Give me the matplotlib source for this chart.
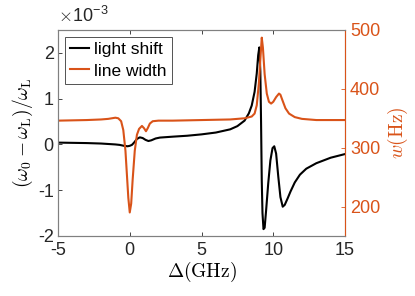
import matplotlib
matplotlib.use("Agg")
import matplotlib.pyplot as plt

plt.rcParams['font.family'] = ['Liberation Sans', 'DejaVu Sans']
plt.rcParams['mathtext.fontset'] = 'cm'

# light shift (units of 1e-3)
ls_x = [-5, -4, -3, -2, -1.5, -1, -0.7, -0.4, -0.15, 0.0, 0.15, 0.3, 0.5, 0.7, 0.9, 1.1, 1.3,
        1.5, 1.8, 2.1, 3, 4, 5, 6, 7, 7.5, 8, 8.3, 8.5, 8.7, 8.85, 8.95, 9.03, 9.1, 9.15, 9.2,
        9.25, 9.32, 9.4, 9.5, 9.65, 9.8, 9.95, 10.07, 10.2, 10.35, 10.5, 10.66, 10.8, 11.0,
        11.2, 11.5, 11.86, 12.3, 13, 14, 15]
ls_y = [0.04, 0.035, 0.03, 0.02, 0.01, 0.0, -0.01, -0.03, -0.04, -0.03, -0.01, 0.04, 0.12,
        0.155, 0.14, 0.10, 0.075, 0.09, 0.13, 0.15, 0.17, 0.19, 0.22, 0.26, 0.33, 0.40, 0.52,
        0.68, 0.85, 1.15, 1.55, 1.95, 2.12, 1.6, 0.5, -0.8, -1.5, -1.85, -1.82, -1.45, -0.85,
        -0.35, -0.08, -0.04, -0.2, -0.7, -1.15, -1.36, -1.32, -1.18, -1.03, -0.83, -0.66,
        -0.53, -0.41, -0.29, -0.21]

# line width (Hz)
lw_x = [-5, -3, -2, -1.5, -1, -0.8, -0.6, -0.45, -0.3, -0.2, -0.1, 0.0, 0.1, 0.2, 0.35, 0.5,
        0.65, 0.85, 1.0, 1.13, 1.25, 1.4, 1.6, 2.0, 3, 5, 7, 8, 8.5, 8.7, 8.85, 9.0, 9.1, 9.2,
        9.28, 9.4, 9.55, 9.7, 9.85, 10.0, 10.2, 10.4, 10.5, 10.65, 10.85, 11.1, 11.5, 12, 13, 15]
lw_y = [346, 347, 348, 349, 351, 350, 345, 330, 295, 255, 215, 190, 205, 245, 295, 322, 332,
        337, 333, 328, 333, 341, 345, 346, 346, 347, 348, 350, 353, 358, 372, 410, 450, 487,
        470, 425, 392, 378, 375, 378, 386, 392, 390, 380, 367, 358, 352, 349, 347, 347]

xticks = [-5, 0, 5, 10, 15]
lticks = [-2, -1, 0, 1, 2]
rticks = [200, 300, 400, 500]

orange = '#D95319'
gray = '#262626'

fig = plt.figure(figsize=(4.15, 2.96), dpi=100)
ax = fig.add_axes([58/415, 60/296, 287/415, 206/296])
ax2 = ax.twinx()

l1, = ax.plot(ls_x, ls_y, color='black', lw=1.5, label='light shift')
l2, = ax2.plot(lw_x, lw_y, color=orange, lw=1.5, label='line width')

ax.set_xlim(-5, 15)
ax.set_ylim(-2, 2.5)
ax2.set_ylim(150, 500)
ax.set_xticks(xticks)
ax.set_yticks(lticks)
ax2.set_yticks(rticks)
ax.set_xticklabels([str(v) for v in xticks])
ax.set_yticklabels([str(v) for v in lticks])

for a in (ax, ax2):
    for s in a.spines.values():
        s.set_linewidth(0.8)
        s.set_color('#808080')
ax2.spines['right'].set_color(orange)
ax.tick_params(axis='both', direction='in', length=3, labelsize=13, colors=gray,
               top=True, width=0.6)
ax.tick_params(axis='x', pad=4)
ax.tick_params(axis='y', pad=3)
ax2.tick_params(axis='y', direction='in', length=3, labelsize=13, colors=orange, width=0.6)
for a in (ax, ax2):
    for t in a.get_xticklabels() + a.get_yticklabels():
        t.set_color(gray if a is ax else orange)

ax.set_xlabel(r'$\Delta(\mathrm{GHz})$', fontsize=14, labelpad=1)
ax.set_ylabel(r'$(\omega_0-\omega_\mathrm{L})/\omega_\mathrm{L}$', fontsize=14, labelpad=2)
ax2.set_ylabel(r'$w(\mathrm{Hz})$', fontsize=14, color=orange, labelpad=4)
ax.text(0.0, 1.02, r'$\times$10$^{\mathregular{-3}}$', transform=ax.transAxes, fontsize=13,
        color=gray, ha='left', va='bottom')

leg = ax.legend(handles=[l1, l2], loc='upper left', fontsize=12.5, frameon=True,
                fancybox=False, edgecolor=gray, handlelength=1.1, handletextpad=0.3,
                borderpad=0.3, labelspacing=0.35, borderaxespad=0.4)
leg.get_frame().set_linewidth(0.7)

fig.savefig('out.png', dpi=100)
